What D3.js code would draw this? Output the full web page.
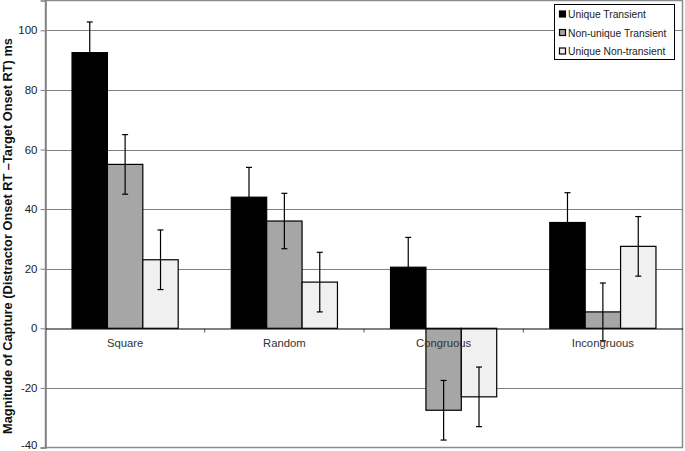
<!DOCTYPE html>
<html><head><meta charset="utf-8">
<script src="https://cdn.jsdelivr.net/npm/d3@7"></script>
<style>body{margin:0;background:#fff}svg{display:block;font-family:Arial,"Liberation Sans",sans-serif}</style>
</head><body><svg id="c" width="685" height="451"></svg>
<script>
const categories = ["Square", "Random", "Congruous", "Incongruous"];
const seriesNames = ["Unique Transient", "Non-unique Transient", "Unique Non-transient"];
const uniqueTransient = [92.5, 44, 20.5, 35.5];
const nonUniqueTransient = [55, 36, -27.5, 5.5];
const uniqueNonTransient = [23, 15.5, -23, 27.5];
const errUniqueTransient = [10.3, 10, 10, 10];
const errNonUniqueTransient = [10, 9.3, 10, 9.7];
const errUniqueNonTransient = [10, 10, 10, 10];
const yTicks = [-40, -20, 0, 20, 40, 60, 80, 100];
const yLabel = "Magnitude of Capture (Distractor Onset  RT \u2013Target Onset RT) ms";

const series = [
  {name: seriesNames[0], values: uniqueTransient, errs: errUniqueTransient, color: "#000000"},
  {name: seriesNames[1], values: nonUniqueTransient, errs: errNonUniqueTransient, color: "#a6a6a6"},
  {name: seriesNames[2], values: uniqueNonTransient, errs: errUniqueNonTransient, color: "#f0f0f0"}
];

const svg = d3.select("#c");
const L = 45.5, R = 682.5, T = 0.5, B = 447.5;
const y = d3.scaleLinear().domain([-40, 110]).range([B, T]);
const x0 = d3.scaleBand().domain(categories).range([L, R]).paddingInner(0).paddingOuter(0);
const x1 = d3.scaleBand().domain(seriesNames).range([0, x0.bandwidth()]).paddingInner(0).paddingOuter(0.75);

// frame
svg.append("rect").attr("x", L).attr("y", T).attr("width", R - L).attr("height", B - T)
  .attr("fill", "#fff").attr("stroke", "#8c8c8c").attr("stroke-width", 1.5);

// gridlines
svg.append("g").selectAll("line").data(yTicks.filter(d => d !== 0 && d !== -40)).join("line")
  .attr("x1", L).attr("x2", R).attr("y1", d => Math.round(y(d)) + 0.5).attr("y2", d => Math.round(y(d)) + 0.5)
  .attr("stroke", "#808080").attr("stroke-width", 1);

// y axis
const yAxis = d3.axisLeft(y).tickValues(yTicks).tickSize(5).tickPadding(3).tickFormat(d => String(d));
const ga = svg.append("g").attr("transform", `translate(${L},0)`).call(yAxis);
ga.select(".domain").attr("stroke", "#808080").attr("stroke-width", 1.5);
ga.selectAll(".tick line").attr("stroke", "#808080");
ga.selectAll(".tick text").attr("font-size", 11.5).attr("fill", "#222").attr("font-family", "Arial, Liberation Sans, sans-serif")
  .attr("dy", d => d === -40 ? "0.05em" : "0.32em");

// bars
const groups = svg.append("g").selectAll("g").data(categories).join("g")
  .attr("transform", d => `translate(${x0(d)},0)`);
series.forEach(s => {
  groups.append("rect")
    .attr("x", (d) => x1(s.name))
    .attr("y", (d, i) => y(Math.max(0, s.values[i])))
    .attr("width", x1.bandwidth())
    .attr("height", (d, i) => Math.abs(y(s.values[i]) - y(0)))
    .attr("fill", s.color).attr("stroke", "#000").attr("stroke-width", 1.2);
});

// zero line and category axis
const xAxis = d3.axisBottom(x0).tickSize(0).tickPadding(10);
const gx = svg.append("g").attr("transform", `translate(0,${Math.round(y(0)) + 0.5})`).call(xAxis);
gx.select(".domain").attr("stroke", "#000").attr("stroke-width", 1);
gx.selectAll(".tick text").attr("font-size", 11.3).attr("fill", "#333").attr("font-family", "Arial, Liberation Sans, sans-serif");
svg.append("g").selectAll("line").data(categories.slice(1)).join("line")
  .attr("x1", d => x0(d)).attr("x2", d => x0(d))
  .attr("y1", Math.round(y(0)) + 0.5).attr("y2", Math.round(y(0)) + 4.5)
  .attr("stroke", "#555");

// error bars
series.forEach(s => {
  const g = groups.append("g");
  g.append("line")
    .attr("x1", x1(s.name) + x1.bandwidth() / 2).attr("x2", x1(s.name) + x1.bandwidth() / 2)
    .attr("y1", (d, i) => y(s.values[i] + s.errs[i])).attr("y2", (d, i) => y(s.values[i] - s.errs[i]))
    .attr("stroke", "#000").attr("stroke-width", 1.2);
  [1, -1].forEach(sg => {
    g.append("line")
      .attr("x1", x1(s.name) + x1.bandwidth() / 2 - 3).attr("x2", x1(s.name) + x1.bandwidth() / 2 + 3)
      .attr("y1", (d, i) => y(s.values[i] + sg * s.errs[i])).attr("y2", (d, i) => y(s.values[i] + sg * s.errs[i]))
      .attr("stroke", "#000").attr("stroke-width", 1.2);
  });
});

// legend
const lg = svg.append("g").attr("transform", "translate(554.5,4.5)");
lg.append("rect").attr("width", 120).attr("height", 55).attr("fill", "#fff").attr("stroke", "#000").attr("stroke-width", 1);
series.forEach((s, i) => {
  const yy = 10 + i * 18.5;
  lg.append("rect").attr("x", 5).attr("y", yy - 3.5).attr("width", 6).attr("height", 6)
    .attr("fill", s.color).attr("stroke", "#000").attr("stroke-width", 1.2);
  lg.append("text").attr("x", 13.5).attr("y", yy).attr("dy", "0.35em")
    .attr("font-size", 10.3).attr("fill", "#222").text(s.name);
});

// y label
svg.append("text").attr("transform", `translate(12,236) rotate(-90)`)
  .attr("text-anchor", "middle").attr("font-size", 12.8).attr("font-weight", "bold").attr("fill", "#111")
  .text(yLabel);
</script></body></html>
